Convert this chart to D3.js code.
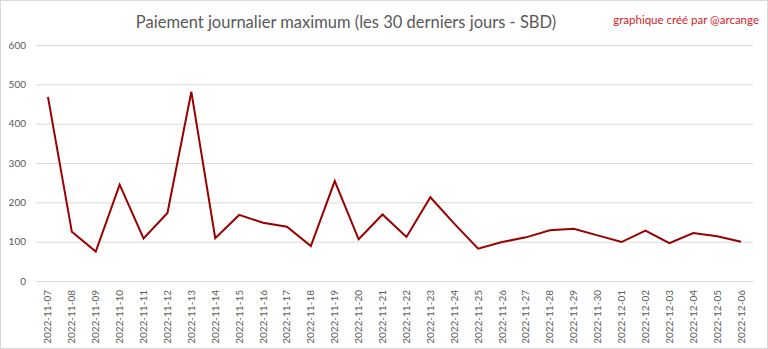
<!DOCTYPE html>
<html>
<head>
<meta charset="utf-8">
<script src="https://cdn.jsdelivr.net/npm/d3@7"></script>
<style>
  html, body { margin: 0; padding: 0; background: #fff; }
  svg { display: block; }
</style>
</head>
<body>
<svg id="chart" width="768" height="349"></svg>
<script>
// Daily maximum payout, last 30 days (SBD)
const dates = [
  "2022-11-07","2022-11-08","2022-11-09","2022-11-10","2022-11-11","2022-11-12",
  "2022-11-13","2022-11-14","2022-11-15","2022-11-16","2022-11-17","2022-11-18",
  "2022-11-19","2022-11-20","2022-11-21","2022-11-22","2022-11-23","2022-11-24",
  "2022-11-25","2022-11-26","2022-11-27","2022-11-28","2022-11-29","2022-11-30",
  "2022-12-01","2022-12-02","2022-12-03","2022-12-04","2022-12-05","2022-12-06"
];
const maxPayout = [
  468, 125, 75, 245, 108, 173,
  481, 109, 168, 148, 138, 89,
  254, 106, 169, 112, 213, 146,
  82, 99, 111, 129, 133, 116,
  99, 128, 96, 122, 114, 100
];
const yTicks = [0, 100, 200, 300, 400, 500, 600];

const W = 768, H = 349;
const margin = { left: 36, right: 15, top: 45, bottom: 68 };
const svg = d3.select("#chart");

// outer frame
svg.append("rect")
  .attr("x", 0.5).attr("y", 0.5)
  .attr("width", W - 1).attr("height", H - 1)
  .attr("fill", "#fff").attr("stroke", "#d9d9d9");

const x = d3.scaleBand().domain(dates).range([margin.left, W - margin.right]);
const y = d3.scaleLinear().domain([0, 600]).range([H - margin.bottom, margin.top]);

// horizontal gridlines + y labels
const yAxis = d3.axisLeft(y).tickValues(yTicks)
  .tickSize(-(W - margin.left - margin.right)).tickPadding(10);
const gy = svg.append("g").attr("transform", `translate(${margin.left},0)`).call(yAxis);
gy.select(".domain").remove();
gy.selectAll(".tick line").attr("stroke", "#d9d9d9").attr("stroke-width", 1);
gy.selectAll(".tick text")
  .attr("fill", "#595959").attr("font-family", "Lato, 'Open Sans', sans-serif")
  .attr("font-size", 10);

// x axis labels (rotated)
const xAxis = d3.axisBottom(x).tickSize(0).tickPadding(0);
const gx = svg.append("g").attr("transform", `translate(0,${H - margin.bottom})`).call(xAxis);
gx.select(".domain").remove();
gx.selectAll(".tick text")
  .attr("fill", "#595959").attr("font-family", "Lato, 'Open Sans', sans-serif")
  .attr("font-size", 10)
  .attr("text-anchor", "end")
  .attr("dy", "0.35em")
  .attr("transform", "translate(0,9) rotate(-90)")
  .attr("x", 0).attr("y", 0);

// series line
const line = d3.line()
  .x((d, i) => x(dates[i]) + x.bandwidth() / 2)
  .y(d => y(d));
svg.append("path")
  .datum(maxPayout)
  .attr("d", line)
  .attr("fill", "none")
  .attr("stroke", "#990000")
  .attr("stroke-width", 2)
  .attr("stroke-linejoin", "miter");

// title
svg.append("text")
  .attr("x", 346).attr("y", 28)
  .attr("text-anchor", "middle")
  .attr("fill", "#595959")
  .attr("font-family", "Lato, 'Open Sans', sans-serif")
  .attr("font-size", 16.5)
  .text("Paiement journalier maximum (les 30 derniers jours - SBD)");

// credit
svg.append("text")
  .attr("x", 759).attr("y", 24)
  .attr("text-anchor", "end")
  .attr("fill", "#d42026")
  .attr("font-family", "Lato, 'Open Sans', sans-serif")
  .attr("font-size", 11.5)
  .text("graphique créé par @arcange");
</script>
</body>
</html>
